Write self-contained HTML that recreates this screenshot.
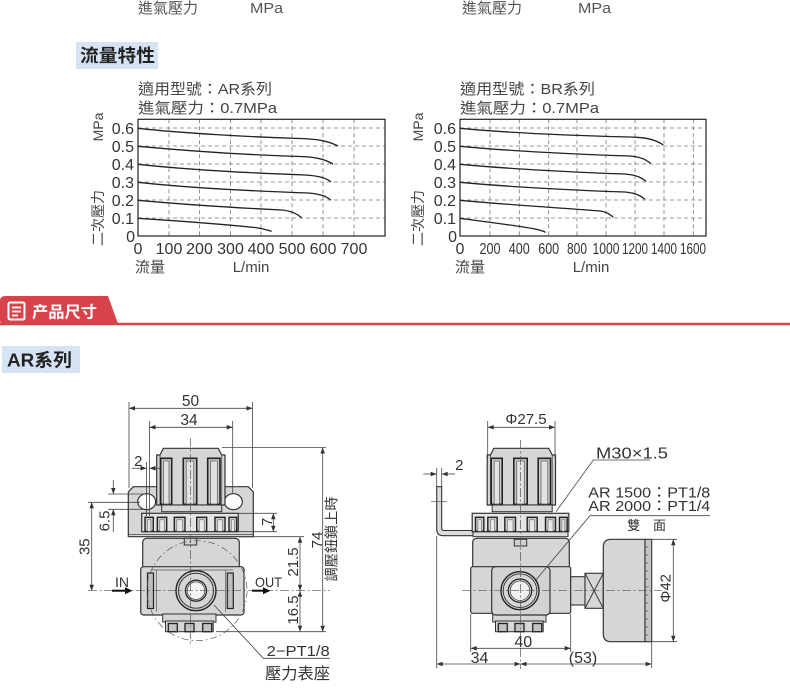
<!DOCTYPE html>
<html><head><meta charset="utf-8">
<style>
html,body{margin:0;padding:0;background:#fff;}
svg{display:block;}
text{font-family:"Liberation Sans","Noto Sans CJK TC",sans-serif;}
</style></head><body>
<svg width="790" height="691" viewBox="0 0 790 691" xmlns="http://www.w3.org/2000/svg">
<defs>
<marker id="ar" viewBox="0 0 8 6" refX="8" refY="3" markerWidth="7" markerHeight="4.5" markerUnits="userSpaceOnUse" orient="auto-start-reverse"><path d="M0,0 L8,3 L0,6 Z" fill="#333"/></marker>
<g id="kn">
  <path d="M156.7,505 L156.7,455 L160,455 L163.3,448.3 L218.3,448.3 L221.7,455 L225,455 L225,505 Z" fill="#d6d6d6" stroke="#333" stroke-width="1.2"/>
  <line x1="160" y1="455" x2="160" y2="505" stroke="#444" stroke-width="0.8"/>
  <line x1="221.7" y1="455" x2="221.7" y2="505" stroke="#444" stroke-width="0.8"/>
  <rect x="160.7" y="458.3" width="11" height="46" fill="#c9c9c9" stroke="#222" stroke-width="1.6"/>
  <rect x="163.6" y="461" width="5.4" height="43" fill="#e2e2e2" stroke="#555" stroke-width="0.7"/>
  <rect x="183.3" y="458.3" width="13.4" height="46" fill="#c9c9c9" stroke="#222" stroke-width="1.6"/>
  <rect x="186.2" y="461" width="7.6" height="43" fill="#e2e2e2" stroke="#555" stroke-width="0.7"/>
  <rect x="207.7" y="458.3" width="12.3" height="46" fill="#c9c9c9" stroke="#222" stroke-width="1.6"/>
  <rect x="210.5" y="461" width="6.8" height="43" fill="#e2e2e2" stroke="#555" stroke-width="0.7"/>
  <rect x="161.7" y="505" width="60" height="6.7" fill="#d6d6d6" stroke="#333" stroke-width="1"/>
  <rect x="141.7" y="513.3" width="96.6" height="18.4" fill="#e4e4e4" stroke="#333" stroke-width="1.2"/>
  <g fill="#cbcbcb" stroke="#222" stroke-width="1.4">
    <rect x="145" y="517.3" width="8.3" height="14"/>
    <rect x="157.3" y="517.3" width="9.4" height="14"/>
    <rect x="174.3" y="517.3" width="10.7" height="14"/>
    <rect x="196.7" y="517.3" width="10" height="14"/>
    <rect x="215" y="517.3" width="10" height="14"/>
    <rect x="229" y="517.3" width="7.7" height="14"/>
  </g>
  <g fill="#e8e8e8" stroke="#666" stroke-width="0.6">
    <rect x="147.4" y="519.8" width="3.5" height="11.5"/>
    <rect x="159.8" y="519.8" width="4.4" height="11.5"/>
    <rect x="176.8" y="519.8" width="5.7" height="11.5"/>
    <rect x="199.2" y="519.8" width="5" height="11.5"/>
    <rect x="217.5" y="519.8" width="5" height="11.5"/>
    <rect x="231.4" y="519.8" width="2.9" height="11.5"/>
  </g>
</g>
<g id="bp">
  <rect x="162.7" y="614" width="53.3" height="8" fill="#d6d6d6" stroke="#333" stroke-width="1"/>
  <rect x="165.5" y="621" width="47.7" height="10.7" fill="#d6d6d6" stroke="#333" stroke-width="1"/>
  <g fill="#c4c4c4" stroke="#222" stroke-width="1.3">
    <rect x="168.3" y="623.5" width="9" height="8.2"/>
    <rect x="185" y="623.5" width="9" height="8.2"/>
    <rect x="202.7" y="623.5" width="9" height="8.2"/>
  </g>
</g>
</defs>

<!-- top text -->
<text x="138" y="13" font-size="15" fill="#555">進氣壓力</text>
<text x="250" y="13" font-size="15" fill="#555" textLength="33" lengthAdjust="spacingAndGlyphs">MPa</text>
<text x="462" y="13" font-size="15" fill="#555">進氣壓力</text>
<text x="578" y="13" font-size="15" fill="#555" textLength="33" lengthAdjust="spacingAndGlyphs">MPa</text>

<!-- 流量特性 -->
<rect x="76" y="42" width="82" height="27" fill="#d5e3f3"/>
<text x="80" y="62" font-size="18" font-weight="bold" fill="#222" textLength="75" lengthAdjust="spacingAndGlyphs">流量特性</text>

<!-- chart titles -->
<text x="138" y="94" font-size="15" fill="#444" textLength="134" lengthAdjust="spacingAndGlyphs">適用型號：AR系列</text>
<text x="138" y="113" font-size="15" fill="#444" textLength="139" lengthAdjust="spacingAndGlyphs">進氣壓力：0.7MPa</text>
<text x="460" y="94" font-size="15" fill="#444" textLength="135" lengthAdjust="spacingAndGlyphs">適用型號：BR系列</text>
<text x="460" y="113" font-size="15" fill="#444" textLength="139" lengthAdjust="spacingAndGlyphs">進氣壓力：0.7MPa</text>

<!-- LEFT CHART -->
<g stroke="#777" stroke-width="0.8" stroke-dasharray="4,3" fill="none">
  <line x1="169" y1="119.3" x2="169" y2="236"/>
  <line x1="199.5" y1="119.3" x2="199.5" y2="236"/>
  <line x1="230.5" y1="119.3" x2="230.5" y2="236"/>
  <line x1="261" y1="119.3" x2="261" y2="236"/>
  <line x1="292" y1="119.3" x2="292" y2="236"/>
  <line x1="323" y1="119.3" x2="323" y2="236"/>
  <line x1="354" y1="119.3" x2="354" y2="236"/>
  <line x1="138" y1="128" x2="385" y2="128"/>
  <line x1="138" y1="146" x2="385" y2="146"/>
  <line x1="138" y1="164" x2="385" y2="164"/>
  <line x1="138" y1="182" x2="385" y2="182"/>
  <line x1="138" y1="200" x2="385" y2="200"/>
  <line x1="138" y1="218" x2="385" y2="218"/>
</g>
<rect x="138" y="119.3" width="247" height="116.7" fill="none" stroke="#222" stroke-width="1.2"/>
<g stroke="#222" stroke-width="1.3" fill="none">
  <path d="M138,128.3 C180,133 250,137 300,138.5 C318,139 328,141 338,146"/>
  <path d="M138,146.3 C190,151 250,155 300,156.5 C318,157 326,160 333,164"/>
  <path d="M138,164.3 C190,170 250,173 305,175 C320,176 326,178 330.7,181.7"/>
  <path d="M138,182.3 C190,188 250,191 308,193 C320,194 326,196 330.7,200"/>
  <path d="M138,200.3 C190,205 240,208 282,210 C292,211 297,214 301.7,217.7"/>
  <path d="M138,218.3 C180,221 230,225 255,227.5 C262,228.5 267,230 271.7,231.3"/>
</g>
<g font-size="16" fill="#333" text-anchor="end">
  <text x="134" y="133.8">0.6</text>
  <text x="134" y="151.8">0.5</text>
  <text x="134" y="169.8">0.4</text>
  <text x="134" y="187.8">0.3</text>
  <text x="134" y="205.8">0.2</text>
  <text x="134" y="223.8">0.1</text>
  <text x="135" y="242">0</text>
</g>
<g font-size="16" fill="#333" text-anchor="middle">
  <text x="138" y="254">0</text>
  <text x="169" y="254">100</text>
  <text x="199.5" y="254">200</text>
  <text x="230.5" y="254">300</text>
  <text x="261" y="254">400</text>
  <text x="292" y="254">500</text>
  <text x="323" y="254">600</text>
  <text x="354" y="254">700</text>
</g>
<text transform="translate(98,127) rotate(-90)" font-size="14" fill="#444" text-anchor="middle" dominant-baseline="central">MPa</text>
<text transform="translate(98,218) rotate(-90)" font-size="14" fill="#444" text-anchor="middle" dominant-baseline="central">二次壓力</text>
<text x="135" y="272" font-size="15" fill="#444">流量</text>
<text x="232.7" y="272" font-size="15" fill="#444">L/min</text>

<!-- RIGHT CHART -->
<g stroke="#777" stroke-width="0.8" stroke-dasharray="4,3" fill="none">
  <line x1="490" y1="119.3" x2="490" y2="236"/>
  <line x1="519.3" y1="119.3" x2="519.3" y2="236"/>
  <line x1="548.7" y1="119.3" x2="548.7" y2="236"/>
  <line x1="577" y1="119.3" x2="577" y2="236"/>
  <line x1="606" y1="119.3" x2="606" y2="236"/>
  <line x1="635" y1="119.3" x2="635" y2="236"/>
  <line x1="664" y1="119.3" x2="664" y2="236"/>
  <line x1="693.3" y1="119.3" x2="693.3" y2="236"/>
  <line x1="460" y1="128" x2="706" y2="128"/>
  <line x1="460" y1="146" x2="706" y2="146"/>
  <line x1="460" y1="164" x2="706" y2="164"/>
  <line x1="460" y1="182" x2="706" y2="182"/>
  <line x1="460" y1="200" x2="706" y2="200"/>
  <line x1="460" y1="218" x2="706" y2="218"/>
</g>
<rect x="460" y="119.3" width="246" height="116.7" fill="none" stroke="#222" stroke-width="1.2"/>
<g stroke="#222" stroke-width="1.3" fill="none">
  <path d="M460,128.3 C510,133 580,136 630,137 C648,137.5 656,140 663.3,145"/>
  <path d="M460,146.3 C510,151 580,154.5 630,156 C642,157 646,160 650.7,163.3"/>
  <path d="M460,164.3 C510,169 580,172.5 625,174 C637,175 642,178 646,181.3"/>
  <path d="M460,182.3 C510,187 580,190.5 625,192 C636,193 641,196 645,199.3"/>
  <path d="M460,200.3 C510,205 570,208.5 600,211 C607,212 610,214.5 613.3,217.3"/>
  <path d="M460,218.3 C480,221 520,226 535,229 C540,230 543,231 545.7,232.3"/>
</g>
<g font-size="16" fill="#333" text-anchor="end">
  <text x="456" y="133.8">0.6</text>
  <text x="456" y="151.8">0.5</text>
  <text x="456" y="169.8">0.4</text>
  <text x="456" y="187.8">0.3</text>
  <text x="456" y="205.8">0.2</text>
  <text x="456" y="223.8">0.1</text>
  <text x="457" y="242">0</text>
</g>
<g font-size="16" fill="#333" text-anchor="middle">
  <text x="460" y="254">0</text>
  <text x="490" y="254" textLength="21" lengthAdjust="spacingAndGlyphs">200</text>
  <text x="519.3" y="254" textLength="21" lengthAdjust="spacingAndGlyphs">400</text>
  <text x="548.7" y="254" textLength="21" lengthAdjust="spacingAndGlyphs">600</text>
  <text x="577" y="254" textLength="20" lengthAdjust="spacingAndGlyphs">800</text>
  <text x="606" y="254" textLength="27" lengthAdjust="spacingAndGlyphs">1000</text>
  <text x="635" y="254" textLength="26" lengthAdjust="spacingAndGlyphs">1200</text>
  <text x="664" y="254" textLength="26" lengthAdjust="spacingAndGlyphs">1400</text>
  <text x="693" y="254" textLength="26" lengthAdjust="spacingAndGlyphs">1600</text>
</g>
<text transform="translate(418,127) rotate(-90)" font-size="14" fill="#444" text-anchor="middle" dominant-baseline="central">MPa</text>
<text transform="translate(418,218) rotate(-90)" font-size="14" fill="#444" text-anchor="middle" dominant-baseline="central">二次壓力</text>
<text x="455" y="272" font-size="15" fill="#444">流量</text>
<text x="572.7" y="272" font-size="15" fill="#444">L/min</text>

<!-- SECTION BANNER -->
<rect x="0" y="322.8" width="790" height="2.4" fill="#d6434a"/>
<path d="M0,301 Q0,296 5,296 L108,296 L118.5,325 L5,325 Q0,325 0,320 Z" fill="#d6434a"/>
<rect x="8.5" y="302.5" width="16" height="17" rx="1.5" fill="none" stroke="#fff" stroke-width="2"/>
<g stroke="#fff" stroke-width="1.8">
  <line x1="12" y1="307.5" x2="21" y2="307.5"/>
  <line x1="12" y1="311.5" x2="21" y2="311.5"/>
  <line x1="12" y1="315.5" x2="18" y2="315.5"/>
</g>
<text x="32" y="317.5" font-size="16" font-weight="bold" fill="#fff" textLength="65" lengthAdjust="spacingAndGlyphs" style="font-family:'Liberation Sans','Noto Sans CJK SC',sans-serif">产品尺寸</text>

<!-- AR系列 -->
<rect x="2" y="346" width="78" height="27" fill="#d5e3f3"/>
<text x="7" y="366.5" font-size="18" font-weight="bold" fill="#222" textLength="65" lengthAdjust="spacingAndGlyphs">AR系列</text>

<!-- ============ LEFT VIEW ============ -->
<path d="M128.3,536.7 L128.3,492 L133.3,486.7 L248.3,486.7 L253.3,492 L253.3,536.7 Z" fill="#d6d6d6" stroke="#333" stroke-width="1.2"/>
<line x1="128.3" y1="534.5" x2="253.3" y2="534.5" stroke="#444" stroke-width="0.8"/>
<ellipse cx="146.7" cy="501.7" rx="9" ry="8" fill="#fff" stroke="#333" stroke-width="1.2"/>
<ellipse cx="233.3" cy="501.7" rx="9" ry="8" fill="#fff" stroke="#333" stroke-width="1.2"/>
<use href="#kn"/>
<rect x="142.7" y="538.3" width="96.6" height="32" rx="4" fill="#d6d6d6" stroke="#333" stroke-width="1.2"/>
<rect x="184.3" y="538.3" width="12.4" height="6.7" fill="#d0d0d0" stroke="#333" stroke-width="1"/>
<rect x="140.7" y="566.7" width="103.3" height="48.3" rx="3" fill="#d6d6d6" stroke="#333" stroke-width="1.2"/>
<g stroke="#555" stroke-width="0.7" fill="none">
  <line x1="151.7" y1="570" x2="233.3" y2="570"/>
  <line x1="156.5" y1="570" x2="156.5" y2="612"/>
  <line x1="225.5" y1="570" x2="225.5" y2="612"/>
</g>
<rect x="147.5" y="573" width="6" height="35.5" fill="#bdbdbd" stroke="#222" stroke-width="1.2"/>
<rect x="227.3" y="573" width="6" height="35.5" fill="#bdbdbd" stroke="#222" stroke-width="1.2"/>
<use href="#bp"/>
<circle cx="196" cy="590.7" r="20" fill="#d0d0d0" stroke="#222" stroke-width="1.4"/>
<circle cx="196" cy="590.7" r="17.5" fill="#d6d6d6" stroke="#333" stroke-width="1"/>
<circle cx="196" cy="590.7" r="10.5" fill="#e6e6e6" stroke="#222" stroke-width="1.3"/>
<circle cx="196" cy="590.7" r="8.8" fill="#f2f2f2" stroke="#444" stroke-width="0.8"/>
<circle cx="197" cy="590.7" r="50" fill="none" stroke="#555" stroke-width="0.7" stroke-dasharray="7,3,1.5,3"/>
<line x1="88" y1="590.7" x2="330" y2="590.7" stroke="#555" stroke-width="0.7" stroke-dasharray="9,2.5,2,2.5"/>
<line x1="190.5" y1="438" x2="190.5" y2="645" stroke="#555" stroke-width="0.7" stroke-dasharray="9,2.5,2,2.5"/>

<g stroke="#444" stroke-width="0.8" fill="none">
  <line x1="129" y1="402" x2="129" y2="488"/>
  <line x1="252.5" y1="402" x2="252.5" y2="488"/>
  <line x1="129" y1="408.3" x2="252.5" y2="408.3" marker-start="url(#ar)" marker-end="url(#ar)"/>
  <line x1="149.5" y1="421" x2="149.5" y2="516"/>
  <line x1="232.7" y1="421" x2="232.7" y2="494"/>
  <line x1="149.5" y1="427.3" x2="232.7" y2="427.3" marker-start="url(#ar)" marker-end="url(#ar)"/>
  <line x1="146.5" y1="462" x2="146.5" y2="516"/>
  <line x1="131.7" y1="468.3" x2="146.5" y2="468.3" marker-end="url(#ar)"/>
  <line x1="161" y1="468.3" x2="149.5" y2="468.3" marker-end="url(#ar)"/>
  <line x1="108" y1="494" x2="148" y2="494"/>
  <line x1="108" y1="509.3" x2="148" y2="509.3"/>
  <line x1="88" y1="502.3" x2="140" y2="502.3"/>
  <line x1="113.3" y1="480" x2="113.3" y2="494" marker-end="url(#ar)"/>
  <line x1="113.3" y1="532" x2="113.3" y2="509.3" marker-end="url(#ar)"/>
  <line x1="91.7" y1="502.3" x2="91.7" y2="590.7" marker-start="url(#ar)" marker-end="url(#ar)"/>
  <line x1="239" y1="513.3" x2="277" y2="513.3"/>
  <line x1="239" y1="531.7" x2="277" y2="531.7"/>
  <line x1="273.3" y1="513.3" x2="273.3" y2="531.7" marker-start="url(#ar)" marker-end="url(#ar)"/>
  <line x1="240" y1="536.7" x2="304" y2="536.7"/>
  <line x1="216" y1="631.7" x2="326" y2="631.7"/>
  <line x1="300" y1="536.7" x2="300" y2="590.7" marker-start="url(#ar)" marker-end="url(#ar)"/>
  <line x1="300" y1="590.7" x2="300" y2="631.7" marker-start="url(#ar)" marker-end="url(#ar)"/>
  <line x1="222" y1="447.5" x2="326" y2="447.5"/>
  <line x1="322.7" y1="447.5" x2="322.7" y2="631.7" marker-start="url(#ar)" marker-end="url(#ar)"/>
  <polyline points="214,605 263.3,658.3 330,658.3"/>
</g>
<g stroke="#111" stroke-width="2">
  <line x1="112" y1="590.7" x2="126" y2="590.7"/>
  <line x1="252" y1="590.7" x2="264" y2="590.7"/>
</g>
<path d="M125,587.2 L132.5,590.7 L125,594.2 Z" fill="#111"/>
<path d="M263,587.2 L270.5,590.7 L263,594.2 Z" fill="#111"/>
<g font-size="15.5" fill="#333">
  <text x="190.5" y="406" text-anchor="middle">50</text>
  <text x="189" y="425" text-anchor="middle">34</text>
  <text x="138.3" y="466" text-anchor="middle" font-size="15">2</text>
  <text x="115" y="587" font-size="14">IN</text>
  <text x="255" y="587" font-size="14" textLength="27" lengthAdjust="spacingAndGlyphs">OUT</text>
  <text x="266.7" y="656" font-size="15" textLength="63" lengthAdjust="spacingAndGlyphs">2−PT1/8</text>
  <text x="265" y="679" font-size="16" textLength="65" lengthAdjust="spacingAndGlyphs">壓力表座</text>
</g>
<g font-size="15" fill="#333" text-anchor="middle" dominant-baseline="central">
  <text transform="translate(85,546.7) rotate(-90)">35</text>
  <text transform="translate(105,521) rotate(-90)">6.5</text>
  <text transform="translate(267.5,522) rotate(-90)">7</text>
  <text transform="translate(293.3,562) rotate(-90)">21.5</text>
  <text transform="translate(293.3,610) rotate(-90)">16.5</text>
  <text transform="translate(317.5,540) rotate(-90)">74</text>
  <text transform="translate(331.7,539) rotate(-90)" font-size="14" textLength="85" lengthAdjust="spacingAndGlyphs">調壓鈕鎖上時</text>
</g>

<!-- ============ RIGHT VIEW ============ -->
<path d="M436.7,486.7 L436.7,529 Q436.7,535.7 443,535.7 L476,535.7 L476,530.5 L444,530.5 Q441.7,530.5 441.7,528 L441.7,486.7 Z" fill="#dcdcdc" stroke="#333" stroke-width="1.1"/>
<line x1="431" y1="501.7" x2="447" y2="501.7" stroke="#555" stroke-width="0.7"/>
<rect x="473" y="531.7" width="95" height="5" fill="#dcdcdc" stroke="#333" stroke-width="1"/>
<use href="#kn" x="330.5"/>
<rect x="472.7" y="538.3" width="96.6" height="32" rx="4" fill="#d6d6d6" stroke="#333" stroke-width="1.2"/>
<rect x="514.3" y="539.3" width="12.4" height="6.7" fill="#d0d0d0" stroke="#333" stroke-width="1"/>
<rect x="470.7" y="566.7" width="100" height="46.6" rx="2" fill="#d6d6d6" stroke="#333" stroke-width="1.2"/>
<use href="#bp" x="330"/>
<rect x="491.7" y="566.7" width="58.3" height="48.3" rx="4" fill="#d3d3d3" stroke="#333" stroke-width="1.2"/>
<circle cx="520" cy="590.7" r="19" fill="#d0d0d0" stroke="#222" stroke-width="1.4"/>
<circle cx="520" cy="590.7" r="16.8" fill="#d6d6d6" stroke="#333" stroke-width="0.9"/>
<circle cx="520" cy="590.7" r="11.7" fill="#e4e4e4" stroke="#222" stroke-width="1.3"/>
<circle cx="520" cy="590.7" r="9.8" fill="#f0f0f0" stroke="#444" stroke-width="0.8"/>
<rect x="570.7" y="576.7" width="14.3" height="28.3" fill="#d6d6d6" stroke="#333" stroke-width="1.1"/>
<rect x="585" y="573.3" width="18.3" height="35" fill="#d6d6d6" stroke="#333" stroke-width="1.1"/>
<g stroke="#333" stroke-width="1"><line x1="585" y1="573.3" x2="603.3" y2="608.3"/><line x1="603.3" y1="573.3" x2="585" y2="608.3"/></g>
<path d="M611,539.3 L645,539.3 L645,641.7 L611,641.7 Q603.3,641.7 603.3,634 L603.3,547 Q603.3,539.3 611,539.3 Z" fill="#d6d6d6" stroke="#333" stroke-width="1.2"/>
<rect x="645" y="539.3" width="6.7" height="102.4" fill="#c6c6c6" stroke="#333" stroke-width="1.1"/>
<g stroke="#555" stroke-width="0.7">
  <line x1="645" y1="547" x2="648.5" y2="547"/><line x1="645" y1="555" x2="648.5" y2="555"/>
  <line x1="645" y1="563" x2="648.5" y2="563"/><line x1="645" y1="571" x2="648.5" y2="571"/>
  <line x1="645" y1="579" x2="648.5" y2="579"/><line x1="645" y1="587" x2="648.5" y2="587"/>
  <line x1="645" y1="595" x2="648.5" y2="595"/><line x1="645" y1="603" x2="648.5" y2="603"/>
  <line x1="645" y1="611" x2="648.5" y2="611"/><line x1="645" y1="619" x2="648.5" y2="619"/>
  <line x1="645" y1="627" x2="648.5" y2="627"/><line x1="645" y1="635" x2="648.5" y2="635"/>
</g>
<line x1="462" y1="590.7" x2="662" y2="590.7" stroke="#555" stroke-width="0.7" stroke-dasharray="9,2.5,2,2.5"/>
<line x1="520.5" y1="440" x2="520.5" y2="669" stroke="#555" stroke-width="0.7" stroke-dasharray="9,2.5,2,2.5"/>

<g stroke="#444" stroke-width="0.8" fill="none">
  <line x1="487.7" y1="421" x2="487.7" y2="458"/>
  <line x1="555" y1="421" x2="555" y2="458"/>
  <line x1="487.7" y1="427.3" x2="555" y2="427.3" marker-start="url(#ar)" marker-end="url(#ar)"/>
  <line x1="436.7" y1="468" x2="436.7" y2="487"/>
  <line x1="441.7" y1="468" x2="441.7" y2="487"/>
  <line x1="423.3" y1="474" x2="436.7" y2="474" marker-end="url(#ar)"/>
  <line x1="455" y1="474" x2="441.7" y2="474" marker-end="url(#ar)"/>
  <polyline points="556,511.7 593.3,460 650,460"/>
  <polyline points="535,581 590,515.7 710,515.7"/>
  <line x1="652" y1="539.3" x2="677" y2="539.3"/>
  <line x1="652" y1="641.7" x2="677" y2="641.7"/>
  <line x1="673.3" y1="539.3" x2="673.3" y2="641.7" marker-start="url(#ar)" marker-end="url(#ar)"/>
  <line x1="470.7" y1="614" x2="470.7" y2="652"/>
  <line x1="570.7" y1="614" x2="570.7" y2="652"/>
  <line x1="470.7" y1="648.3" x2="570.7" y2="648.3" marker-start="url(#ar)" marker-end="url(#ar)"/>
  <line x1="436.7" y1="536" x2="436.7" y2="668"/>
  <line x1="651.7" y1="642" x2="651.7" y2="668"/>
  <line x1="436.7" y1="664" x2="520.5" y2="664" marker-start="url(#ar)" marker-end="url(#ar)"/>
  <line x1="520.5" y1="664" x2="651.7" y2="664" marker-start="url(#ar)" marker-end="url(#ar)"/>
</g>
<g font-size="15.5" fill="#333">
  <text x="526" y="424" text-anchor="middle" font-size="15">Φ27.5</text>
  <text x="459.3" y="470" text-anchor="middle" font-size="15">2</text>
  <text x="596" y="458.5" font-size="16" textLength="72" lengthAdjust="spacingAndGlyphs">M30×1.5</text>
  <text x="588.3" y="497.5" font-size="14.5" textLength="122" lengthAdjust="spacingAndGlyphs">AR 1500：PT1/8</text>
  <text x="588.3" y="511" font-size="14.5" textLength="122" lengthAdjust="spacingAndGlyphs">AR 2000：PT1/4</text>
  <text x="633.7" y="530" font-size="13" text-anchor="middle">雙</text>
  <text x="659.5" y="530" font-size="13" text-anchor="middle">面</text>
  <text x="523.3" y="647" text-anchor="middle" font-size="16">40</text>
  <text x="479.5" y="663" text-anchor="middle" font-size="16">34</text>
  <text x="583" y="663" text-anchor="middle" font-size="16">(53)</text>
</g>
<text transform="translate(666,588.3) rotate(-90)" font-size="15" fill="#333" text-anchor="middle" dominant-baseline="central">Φ42</text>
</svg>
</body></html>
